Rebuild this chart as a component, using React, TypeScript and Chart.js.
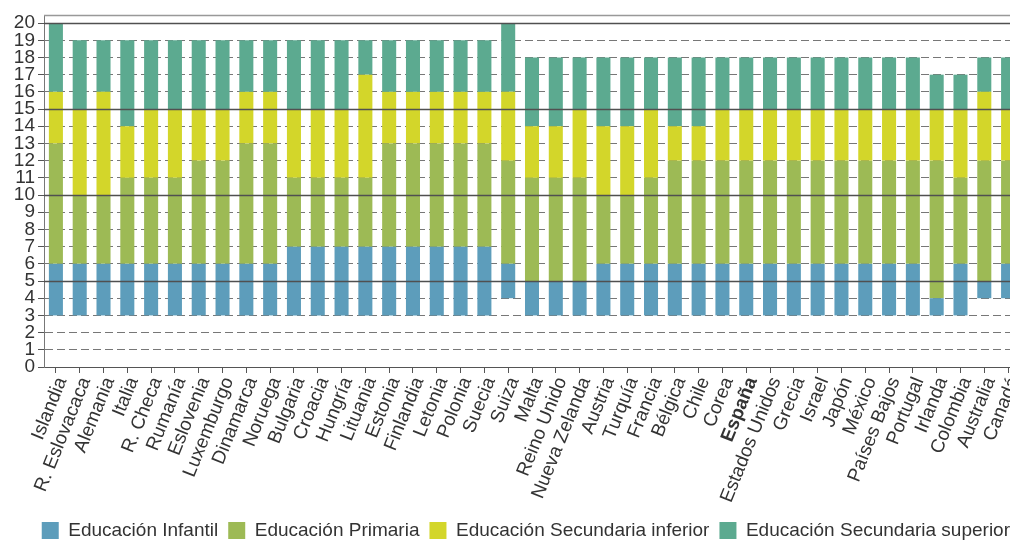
import React, { useEffect, useRef } from "react";
import { Chart, registerables } from "chart.js";

Chart.register(...registerables);

const countries = [
  "Islandia", "R. Eslovacaca", "Alemania", "Italia", "R. Checa", "Rumanía",
  "Eslovenia", "Luxemburgo", "Dinamarca", "Noruega", "Bulgaria", "Croacia",
  "Hungría", "Lituania", "Estonia", "Finlandia", "Letonia", "Polonia", "Suecia",
  "Suiza", "Malta", "Reino Unido", "Nueva Zelanda", "Austria", "Turquía",
  "Francia", "Bélgica", "Chile", "Corea", "España", "Estados Unidos", "Grecia",
  "Israel", "Japón", "México", "Países Bajos", "Portugal", "Irlanda", "Colombia",
  "Australia", "Canadá",
];

// Starting age of each stage (and end age of the last one)
const infantilStart = [3,3,3,3,3,3,3,3,3,3,3,3,3,3,3,3,3,3,3,4,3,3,3,3,3,3,3,3,3,3,3,3,3,3,3,3,3,3,3,4,4];
const primariaStart = [6,6,6,6,6,6,6,6,6,6,7,7,7,7,7,7,7,7,7,6,5,5,5,6,6,6,6,6,6,6,6,6,6,6,6,6,6,4,6,5,6];
const secInfStart   = [13,10,10,11,11,11,12,12,13,13,11,11,11,11,13,13,13,13,13,12,11,11,11,10,10,11,12,12,12,12,12,12,12,12,12,12,12,12,11,12,12];
const secSupStart   = [16,15,16,14,15,15,15,15,16,16,15,15,15,17,16,16,16,16,16,16,14,14,15,14,14,15,14,14,15,15,15,15,15,15,15,15,15,15,15,16,15];
const secSupEnd     = [20,19,19,19,19,19,19,19,19,19,19,19,19,19,19,19,19,19,19,20,18,18,18,18,18,18,18,18,18,18,18,18,18,18,18,18,18,17,17,18,18];

const seriesLabels = [
  "Educación Infantil",
  "Educación Primaria",
  "Educación Secundaria inferior",
  "Educación Secundaria superior",
];
const seriesColors = ["#5d9dbb", "#9dba55", "#d3d62a", "#5caa90"];
const yTicks = [0,1,2,3,4,5,6,7,8,9,10,11,12,13,14,15,16,17,18,19,20];
const boldLabel = "España";

const FONT = "'Liberation Sans', Arial, sans-serif";

const ranges = (a: number[], b: number[]) => a.map((v, i) => [v, b[i]]);

const framePlugin = {
  id: "frame",
  afterDatasetsDraw(chart: any) {
    const { ctx, chartArea, scales } = chart;
    const y = scales.y;
    ctx.save();
    ctx.strokeStyle = "#505050";
    ctx.lineWidth = 1.5;
    [5, 10, 15, 20].forEach((v) => {
      const py = Math.round(y.getPixelForValue(v)) + 0.5;
      ctx.beginPath();
      ctx.moveTo(chartArea.left, py);
      ctx.lineTo(chartArea.right, py);
      ctx.stroke();
    });
    ctx.strokeStyle = "#999";
    ctx.lineWidth = 1.5;
    ctx.beginPath();
    ctx.moveTo(chartArea.left, chartArea.top + 0.5);
    ctx.lineTo(chartArea.right, chartArea.top + 0.5);
    ctx.stroke();
    ctx.restore();
  },
};

export default function App() {
  const ref = useRef<HTMLCanvasElement>(null);
  useEffect(() => {
    const data = [
      ranges(infantilStart, primariaStart),
      ranges(primariaStart, secInfStart),
      ranges(secInfStart, secSupStart),
      ranges(secSupStart, secSupEnd),
    ];
    const chart = new Chart(ref.current as HTMLCanvasElement, {
      type: "bar",
      data: {
        labels: countries,
        datasets: seriesLabels.map((label, i) => ({
          label,
          data: data[i] as any,
          backgroundColor: seriesColors[i],
          borderWidth: 0,
          categoryPercentage: 1,
          barPercentage: 0.59,
          grouped: false,
        })),
      },
      options: {
        responsive: false,
        maintainAspectRatio: false,
        animation: false,
        layout: { padding: { top: 7, left: 0, right: 0, bottom: 0 } },
        plugins: {
          tooltip: { enabled: false },
          legend: {
            position: "bottom",
            align: "end",
            labels: {
              boxWidth: 17,
              boxHeight: 17,
              padding: 10,
              color: "#333",
              font: { size: 19, family: FONT },
            },
          },
        },
        scales: {
          x: {
            stacked: true,
            offset: true,
            grid: { offset: false, drawOnChartArea: false, tickLength: 6, color: "#555" },
            border: { display: true, color: "#555" },
            ticks: {
              autoSkip: false,
              minRotation: 68,
              maxRotation: 68,
              padding: 1,
              labelOffset: 6,
              color: "#333",
              font: (ctx: any) => ({
                size: 19,
                family: FONT,
                weight: countries[ctx.index] === boldLabel ? "bold" : "normal",
              }),
            },
            afterFit: (s: any) => {
              s.height = 144;
              s.paddingLeft = 0;
              s.paddingRight = 0;
            },
          },
          y: {
            min: 0,
            max: 20.47,
            afterBuildTicks: (s: any) => {
              s.ticks = yTicks.map((v) => ({ value: v }));
            },
            ticks: {
              autoSkip: false,
              padding: 3,
              color: "#333",
              font: { size: 19, family: FONT },
            },
            grid: {
              color: (ctx: any) => (ctx.tick && ctx.tick.value % 5 === 0 ? "#555" : "#777"),
              lineWidth: 1,
              tickLength: 6,
              tickColor: "#555",
            },
            border: {
              display: true,
              color: "#777",
              dash: (ctx: any) => (ctx.tick && ctx.tick.value % 5 === 0 ? [] : [8, 4]),
            },
            afterFit: (s: any) => {
              s.width = 36;
              s.paddingTop = 0;
              s.paddingBottom = 0;
            },
          },
        },
      },
      plugins: [framePlugin],
    });
    return () => chart.destroy();
  }, []);
  return (
    <div style={{ width: 1010, height: 535, overflow: "hidden" }}>
      <canvas ref={ref} width={1012} height={542} style={{ display: "block" }} />
    </div>
  );
}
